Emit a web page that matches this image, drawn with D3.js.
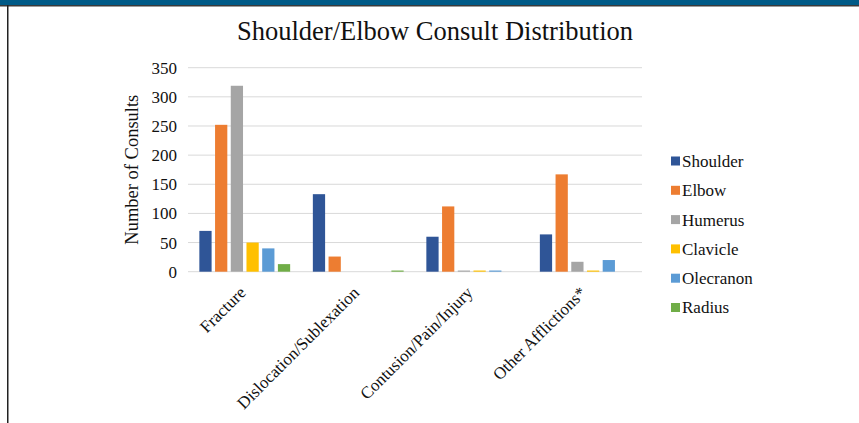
<!DOCTYPE html>
<html><head><meta charset="utf-8">
<script src="https://cdn.jsdelivr.net/npm/d3@7"></script>
<style>body{margin:0;background:#fff;}svg{display:block;}</style>
</head><body>
<svg id="c" width="859" height="423"></svg>
<script>
const categories = ["Fracture", "Dislocation/Sublexation", "Contusion/Pain/Injury", "Other Afflictions*"];
const seriesNames = ["Shoulder", "Elbow", "Humerus", "Clavicle", "Olecranon", "Radius"];
const shoulder  = [70, 133, 60, 64];
const elbow     = [252, 26, 112, 167];
const humerus   = [319, 0, 2, 17];
const clavicle  = [50, 0, 2, 2];
const olecranon = [40, 0, 2, 20];
const radius    = [13, 2, 0, 0];
const yTicks = [0, 50, 100, 150, 200, 250, 300, 350];
const colors = ["#2f5597", "#ed7d31", "#a5a5a5", "#ffc000", "#5b9bd5", "#70ad47"];

const series = [shoulder, elbow, humerus, clavicle, olecranon, radius];
const svg = d3.select("#c");
const font = "'Liberation Serif', 'Times New Roman', serif";

// frame
svg.append("rect").attr("x",0).attr("y",0).attr("width",859).attr("height",5).attr("fill","#005a87");
svg.append("rect").attr("x",0).attr("y",5).attr("width",859).attr("height",1.5).attr("fill","#3a3a3a");
svg.append("rect").attr("x",7).attr("y",5).attr("width",1.5).attr("height",418).attr("fill","#222");

const m = {l:188, r:642, t:67.7, b:271.7};
const x0 = d3.scaleBand().domain(categories).range([m.l, m.r]).paddingInner(0.2).paddingOuter(0.1);
const x1 = d3.scaleBand().domain(seriesNames).range([0, x0.bandwidth()]).paddingInner(0.22);
const y = d3.scaleLinear().domain([0, 350]).range([m.b, m.t]);

svg.append("text").attr("x", 435).attr("y", 40).attr("text-anchor","middle")
  .attr("font-family", font).attr("font-size", 26.5).attr("fill","#111")
  .text("Shoulder/Elbow Consult Distribution");

// gridlines
svg.append("g").selectAll("line").data(yTicks).join("line")
  .attr("x1", m.l).attr("x2", m.r).attr("y1", d=>y(d)).attr("y2", d=>y(d))
  .attr("stroke", "#d9d9d9").attr("stroke-width", 1);

// y axis labels
const ya = svg.append("g").attr("transform", `translate(${m.l},0)`)
  .call(d3.axisLeft(y).tickValues(yTicks).tickSize(0).tickPadding(11));
ya.select(".domain").remove();
ya.selectAll("text").attr("font-family", font).attr("font-size", 17).attr("fill","#111");

svg.append("text").attr("transform", `translate(138,${(m.t+m.b)/2}) rotate(-90)`)
  .attr("text-anchor","middle").attr("font-family", font).attr("font-size", 18.5).attr("fill","#111")
  .text("Number of Consults");

// bars
const g = svg.append("g");
categories.forEach((c, ci) => {
  seriesNames.forEach((s, si) => {
    const v = series[si][ci];
    if (v <= 0) return;
    g.append("rect").attr("x", x0(c) + x1(s)).attr("width", x1.bandwidth())
      .attr("y", y(v)).attr("height", y(0) - y(v)).attr("fill", colors[si]);
  });
});

// x labels
const xa = svg.append("g").attr("transform", `translate(0,${m.b})`)
  .call(d3.axisBottom(x0).tickSize(0).tickPadding(0));
xa.select(".domain").remove();
xa.selectAll("text").attr("font-family", font).attr("font-size", 17).attr("fill","#111")
  .attr("text-anchor","end").attr("dy", 0)
  .attr("transform", "translate(2,22) rotate(-45)");

// legend
const lg = svg.append("g").attr("transform","translate(671,161)");
seriesNames.forEach((s, i) => {
  const row = lg.append("g").attr("transform", `translate(0,${i*29.3})`);
  row.append("rect").attr("x",0).attr("y",-4.5).attr("width",9).attr("height",9).attr("fill", colors[i]);
  row.append("text").attr("x",11).attr("y",0).attr("dy","0.35em")
    .attr("font-family", font).attr("font-size", 17).attr("fill","#111").text(s);
});
</script>
</body></html>
